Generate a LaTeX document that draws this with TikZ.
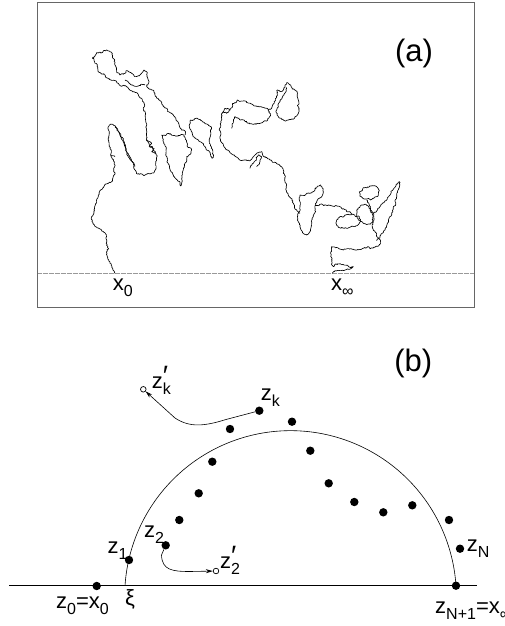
\documentclass[tikz,border=0pt]{standalone}
\usepackage{fontspec}
\setmainfont{Liberation Sans}
\usetikzlibrary{decorations.pathmorphing,arrows.meta}
\newcommand\subs[1]{\raisebox{-6pt}{\fontsize{16}{16}\selectfont #1}}
\newcommand\prm{\rlap{\raisebox{3pt}{\fontsize{28}{28}\selectfont ′}}}
\newcommand\tr[1]{\draw[trace] decorate[decoration={random steps,segment length=1.1pt,amplitude=0.55pt}]{decorate[decoration={random steps,segment length=3.5pt,amplitude=1.4pt}]{#1}};}
\tikzset{
  lab/.style={anchor=base west,inner sep=0pt,font=\fontsize{22}{22}\selectfont},
  big/.style={inner sep=0pt,font=\fontsize{31}{31}\selectfont},
  trace/.style={line width=0.65pt,line join=round},
  dot/.style={circle,fill=black,inner sep=0pt,minimum size=8.4pt},
  odot/.style={circle,draw=black,fill=white,line width=0.7pt,inner sep=0pt,minimum size=5.6pt},
  arr/.style={line width=0.6pt,-{Stealth[length=7pt,width=4pt]}},
}
\begin{document}
\begin{tikzpicture}[x=1pt,y=-1pt]
\useasboundingbox (0,0) rectangle (505,626);
% ---------- (a) ----------
\draw[black!60,line width=0.9pt] (37.7,2.7) rectangle (474,307);
\draw[black!40,line width=0.6pt,dash pattern=on 0.4pt off 0.8pt] (37.7,273.5) -- (474,273.5);
\node[big] (la) at (414,53) {(a)};
\node[lab] (x0) at (112.7,290) {x\subs{0}};
\node[lab] (xinf) at (331,290) {x\subs{∞}};
\pgfmathsetseed{7}
\begin{scope}[x=0.3333pt,y=-0.3333pt]
\tr{(345,820)--(338,805)--(330,790)--(322,770)--(325,745)--(320,720)--(316,700)--(303,688)--(286,680)--(276,665)--(275,650)--(282,630)--(290,605)--(298,582)--(310,563)--(325,550)--(338,542)--(345,522)--(345,497)--(338,478)--(332,465)--(345,470)}
\tr{(332,465)--(328,440)--(326,410)--(325,380)--(333,372)--(346,378)--(352,392)--(362,410)--(372,432)--(380,455)--(392,478)--(400,490)--(405,510)--(412,522)--(432,527)--(455,520)--(468,505)--(470,480)--(466,455)--(458,440)--(445,428)--(440,410)--(438,380)--(436,350)--(433,320)--(425,295)--(410,278)--(385,265)--(355,250)--(328,236)--(305,222)--(293,205)--(285,190)--(277,175)--(285,168)--(290,158)--(305,158)--(320,150)--(337,160)--(343,178)--(345,195)--(350,215)--(360,225)--(375,220)--(380,212)--(393,218)--(405,230)--(420,225)--(432,210)--(442,218)--(445,240)--(440,258)--(450,268)--(465,280)--(478,300)--(490,320)--(505,335)--(520,345)--(528,360)--(538,378)--(550,390)--(556,405)}
\tr{(375,240)--(395,255)--(415,258)--(435,255)}
\tr{(345,380)--(358,398)--(372,425)--(380,455)--(390,478)--(405,500)}
\tr{(440,420)--(455,430)--(448,440)--(462,445)--(455,455)--(468,460)}
\tr{(485,405)--(505,400)--(530,408)--(552,405)--(556,415)--(562,440)--(575,450)--(572,462)--(560,470)--(555,490)--(548,515)--(546,540)--(542,558)--(532,540)--(520,528)--(510,508)--(503,480)--(498,450)--(490,425)--(485,405)}
\tr{(572,360)--(588,355)--(605,362)--(620,372)--(635,382)--(632,405)--(628,425)--(634,445)--(640,470)--(636,475)--(628,455)--(615,440)--(600,425)--(585,415)--(575,395)--(568,375)--(572,360)}
\tr{(690,330)--(680,340)--(670,335)--(665,355)--(662,380)--(660,410)--(663,425)--(672,440)--(685,452)--(700,465)--(715,475)--(735,480)--(755,478)--(765,465)--(770,460)--(785,455)--(795,470)--(810,480)--(828,488)--(845,500)--(850,520)--(855,545)--(858,570)--(868,590)--(880,610)--(886,628)--(900,640)}
\tr{(665,340)--(675,325)--(690,330)--(698,310)--(712,300)--(735,303)--(755,312)--(780,320)--(805,328)--(812,345)--(802,362)--(775,370)--(745,370)--(722,360)--(705,350)--(700,365)--(695,385)}
\tr{(805,330)--(818,315)--(828,295)--(832,270)--(845,275)--(855,258)--(860,248)--(872,255)--(882,268)--(892,285)--(897,310)--(895,340)--(885,352)--(865,360)--(848,358)--(835,350)--(830,330)--(840,305)--(852,285)--(860,262)}
\tr{(750,505)--(760,490)--(770,480)--(775,465)--(785,470)--(780,485)--(770,500)}
\tr{(900,585)--(920,580)--(945,570)--(962,555)--(968,565)--(965,590)--(950,605)--(945,625)--(940,650)--(935,672)--(930,695)--(920,705)--(910,700)--(900,680)--(892,660)--(895,640)--(900,620)--(898,600)--(900,585)}
\tr{(945,615)--(965,612)--(985,615)--(1005,618)--(1025,625)--(1040,635)--(1055,642)}
\tr{(1010,660)--(1020,650)--(1035,645)--(1060,643)--(1075,648)--(1082,665)--(1065,680)--(1040,685)--(1015,682)--(1008,670)--(1010,660)}
\tr{(1078,575)--(1090,563)--(1110,558)--(1130,560)--(1138,572)--(1130,590)--(1112,600)--(1092,597)--(1080,588)--(1078,575)}
\tr{(1070,630)--(1085,615)--(1105,618)--(1116,635)--(1122,655)--(1110,672)--(1090,670)--(1075,660)--(1070,645)--(1070,630)}
\tr{(1120,640)--(1140,620)--(1158,602)--(1172,582)--(1185,562)--(1198,545)--(1195,570)--(1190,595)--(1180,622)--(1170,650)--(1160,678)--(1150,698)--(1140,712)--(1130,722)}
\tr{(1100,600)--(1112,625)--(1118,660)--(1120,690)--(1130,710)--(1142,730)--(1125,742)--(1090,745)--(1060,748)--(1030,750)--(1005,742)--(995,740)--(992,760)--(996,782)--(1000,800)--(1018,792)--(1040,796)--(1060,800)--(1045,808)--(1020,812)--(1005,812)--(997,820)}
\end{scope}
% ---------- (b) ----------
\node[big] (lb) at (413.3,363.3) {(b)};
\coordinate (bl) at (9,585.7);
\coordinate (br) at (477,585.7);
\draw[line width=0.8pt] (bl) -- (br);
\draw[line width=0.6pt] plot[domain=-3.75:-176.25,samples=120,smooth] ({290.5+165.85*cos(\x)},{596.5+165.85*sin(\x)});
\node[dot] (z0) at (96.7,586) {};
\node[dot] (z1) at (129,560) {};
\node[dot] (z2) at (165.7,545.3) {};
\node[dot] (d3) at (179.3,520) {};
\node[dot] (d4) at (198.7,493.3) {};
\node[dot] (d5) at (212.3,461.7) {};
\node[dot] (d6) at (230,429) {};
\node[dot] (zk) at (259.3,410.7) {};
\node[dot] (d8) at (292,421.7) {};
\node[dot] (d9) at (310.3,450.7) {};
\node[dot] (d10) at (328.7,483.3) {};
\node[dot] (d11) at (354.3,502) {};
\node[dot] (d12) at (383.3,512.3) {};
\node[dot] (d13) at (412.3,505.3) {};
\node[dot] (d14) at (449,520) {};
\node[dot] (zN) at (460,548.7) {};
\node[dot] (zN1) at (456,585.7) {};
\node[odot] (zkp) at (143.3,389.3) {};
\node[odot] (z2p) at (216,571) {};
\coordinate (c1) at (226,419.5);
\coordinate (c2) at (175,418);
\draw[arr] (zk) -- (c1) .. controls (205,426) and (190,428) .. (c2) -- (zkp);
\coordinate (c3) at (161.5,555);
\draw[arr] (z2) -- (c3) .. controls (162,570) and (172,571.5) .. (190,571.5) -- (z2p);
\node[lab] (tzkp) at (151.7,388.3) {z\prm\subs{k}};
\node[lab] (tzk) at (260.7,400) {z\subs{k}};
\node[lab] (tz1) at (107.3,553.3) {z\subs{1}};
\node[lab] (tz2) at (144,537.7) {z\subs{2}};
\node[lab] (tz2p) at (220,568.3) {z\prm\subs{2}};
\node[lab] (tzN) at (466.7,551.7) {z\subs{N}};
\node[lab] (tz0) at (56,608) {z\subs{0}=x\subs{0}};
\node[lab] (txi) at (125,605) {ξ};
\node[lab] (tzN1) at (435,613) {z\subs{N+1}=x\subs{∞}};
\end{tikzpicture}
\end{document}
